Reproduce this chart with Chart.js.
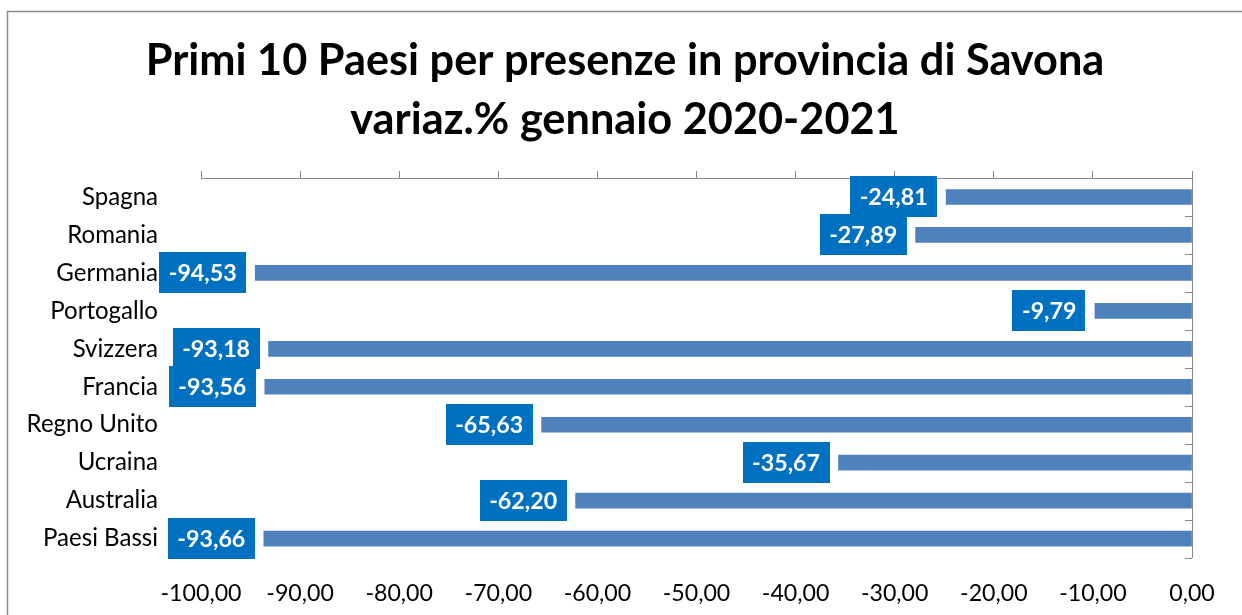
<!DOCTYPE html>
<html>
<head>
<meta charset="utf-8">
<script src="https://cdn.jsdelivr.net/npm/chart.js@4.4.1/dist/chart.umd.min.js"></script>
<style>
  html, body { margin: 0; padding: 0; background: #ffffff; }
  #wrap { position: relative; width: 1242px; height: 615px; }
</style>
</head>
<body>
<div id="wrap"><canvas id="c" width="1242" height="615"></canvas></div>
<script>
// ---- data ----
const titleLines = ['Primi 10 Paesi per presenze in provincia di Savona', 'variaz.% gennaio 2020-2021'];
const countries = ['Spagna', 'Romania', 'Germania', 'Portogallo', 'Svizzera', 'Francia', 'Regno Unito', 'Ucraina', 'Australia', 'Paesi Bassi'];
const variations = [-24.81, -27.89, -94.53, -9.79, -93.18, -93.56, -65.63, -35.67, -62.20, -93.66];
const axisMin = -100;
const axisMax = 0;
const axisStep = 10;

// ---- styling helpers ----
const FAMILY = 'Lato, "Noto Sans", "Liberation Sans", sans-serif';
const mctx = document.createElement('canvas').getContext('2d');
function fitSize(text, weight, target) {
  mctx.font = weight + ' 100px ' + FAMILY;
  return 100 * target / mctx.measureText(text).width;
}
const titleSize = fitSize(titleLines[0], 'bold', 959);
const tickSize = fitSize('-100,00', 'normal', 81);
const catSize = fitSize('Paesi Bassi', 'normal', 115);
const labelSize = fitSize('-93,66', 'bold', 68);

const fmt = v => Number(v).toFixed(2).replace('.', ',');
const AXIS_GREY = '#898989';

const framePlugin = {
  id: 'frame',
  beforeDraw(chart) {
    const c = chart.ctx;
    c.save();
    c.strokeStyle = '#8a8a8a';
    c.lineWidth = 1.5;
    c.beginPath();
    c.moveTo(7.5, 615);
    c.lineTo(7.5, 11.5);
    c.lineTo(1242, 11.5);
    c.stroke();
    c.restore();
  }
};

const innerTicksPlugin = {
  id: 'innerTicks',
  afterDraw(chart) {
    const s = chart.scales.y;
    const area = chart.chartArea;
    const c = chart.ctx;
    const n = s.ticks.length;
    c.save();
    c.strokeStyle = AXIS_GREY;
    c.lineWidth = 1;
    c.beginPath();
    for (let i = 0; i <= n; i++) {
      const yy = Math.round(s.top + i * (s.bottom - s.top) / n) + 0.5;
      c.moveTo(Math.round(area.right) - 7, yy);
      c.lineTo(Math.round(area.right), yy);
    }
    c.stroke();
    c.restore();
  }
};

const boxLabelPlugin = {
  id: 'boxLabels',
  afterDatasetsDraw(chart) {
    const c = chart.ctx;
    const meta = chart.getDatasetMeta(0);
    c.save();
    c.font = 'bold ' + labelSize + 'px ' + FAMILY;
    c.textAlign = 'center';
    c.textBaseline = 'middle';
    meta.data.forEach((bar, i) => {
      const txt = fmt(chart.data.datasets[0].data[i]);
      const w = c.measureText(txt).width + 19;
      const h = 41;
      const right = bar.x - 9;
      const left = right - w;
      const top = bar.y - h / 2;
      c.fillStyle = '#0070C0';
      c.fillRect(Math.round(left), Math.round(top), Math.round(w), h);
      c.fillStyle = '#ffffff';
      c.fillText(txt, left + w / 2, bar.y + 1);
    });
    c.restore();
  }
};

new Chart(document.getElementById('c'), {
  type: 'bar',
  data: {
    labels: countries,
    datasets: [{
      data: variations,
      backgroundColor: '#4F81BD',
      borderWidth: 0,
      barThickness: 15,
      xAxisID: 'x',
      yAxisID: 'y'
    }]
  },
  options: {
    indexAxis: 'y',
    responsive: false,
    animation: false,
    layout: { padding: { left: 8, right: 0, top: 0, bottom: 0 } },
    plugins: {
      legend: { display: false },
      tooltip: { enabled: false },
      title: {
        display: true,
        text: titleLines,
        color: '#000000',
        font: { family: FAMILY, weight: 'bold', size: titleSize, lineHeight: '59px' },
        padding: { top: 32, bottom: 21 }
      }
    },
    scales: {
      x: {
        type: 'linear',
        position: 'top',
        min: axisMin,
        max: axisMax,
        ticks: { display: false, stepSize: axisStep },
        grid: { drawOnChartArea: false, drawTicks: true, tickLength: 7, color: AXIS_GREY, tickColor: AXIS_GREY },
        border: { display: true, color: AXIS_GREY, width: 1 },
        afterFit(s) { s.height = 7; }
      },
      x2: {
        type: 'linear',
        position: 'bottom',
        min: axisMin,
        max: axisMax,
        grid: { display: false, drawTicks: false },
        border: { display: false },
        ticks: {
          stepSize: axisStep,
          padding: 22,
          color: '#000000',
          font: { family: FAMILY, size: tickSize },
          maxRotation: 0,
          autoSkip: false,
          callback: v => fmt(v)
        },
        afterFit(s) { s.height = 57; }
      },
      y: {
        type: 'category',
        position: 'left',
        offset: true,
        grid: { display: false, drawTicks: false, offset: true },
        border: { display: false },
        ticks: { color: '#000000', padding: 43, font: { family: FAMILY, size: catSize } },
        afterFit(s) { s.width = 193; }
      },
      y2: {
        type: 'category',
        position: 'right',
        offset: true,
        labels: countries,
        grid: { display: false, drawTicks: false, offset: true },
        border: { display: true, color: AXIS_GREY, width: 1 },
        ticks: { display: false },
        afterFit(s) { s.width = 50; }
      }
    }
  },
  plugins: [framePlugin, innerTicksPlugin, boxLabelPlugin]
});
</script>
</body>
</html>
